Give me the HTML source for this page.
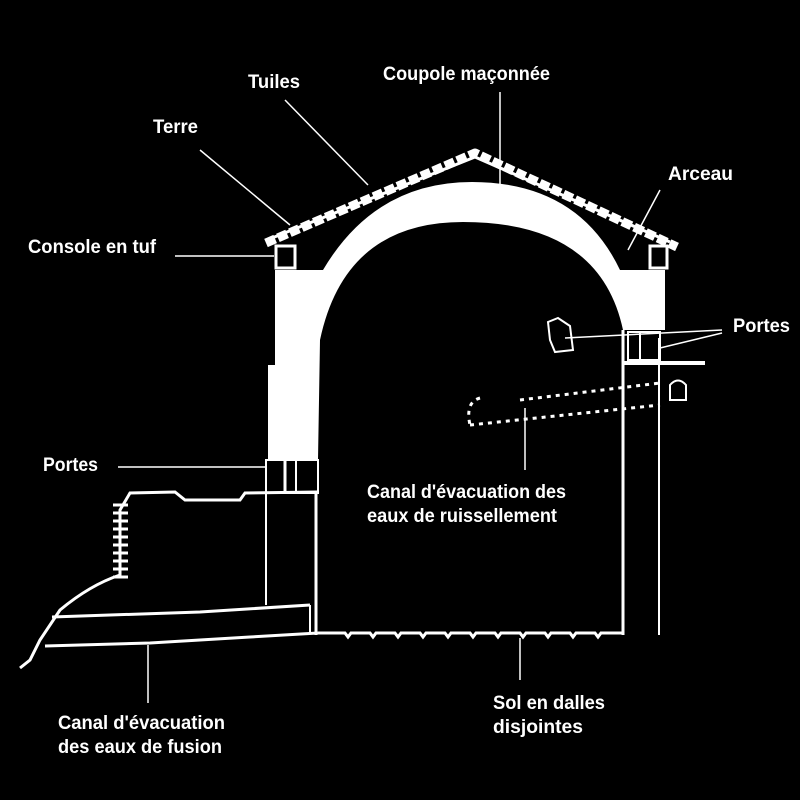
<!DOCTYPE html>
<html><head><style>
html,body{margin:0;padding:0;background:#000;}
svg{display:block;}
text{font-family:"Liberation Sans",sans-serif;font-weight:bold;fill:#fff;font-size:19px;}
</style></head><body>
<svg width="800" height="800" viewBox="0 0 800 800" xmlns="http://www.w3.org/2000/svg">
<rect width="800" height="800" fill="#000"/>
<path d="M275,270 L323,270 Q375,182 472,182 Q578,182 620,270 L665,270 L665,330 L623,330 Q600,222 463,222 Q345,222 320,340 L318,460 L268,460 L268,365 L275,365 Z" fill="#fff"/>
<path d="M266,243 L475,153 L677,247" fill="none" stroke="#fff" stroke-width="9" stroke-dasharray="10 3" stroke-linejoin="round"/>
<path d="M272,238 L475,157 L670,242" fill="none" stroke="#fff" stroke-width="3"/>
<rect x="276" y="246" width="19" height="22" fill="none" stroke="#fff" stroke-width="3"/>
<rect x="650" y="246" width="17" height="22" fill="none" stroke="#fff" stroke-width="3"/>
<g stroke="#fff" fill="none">
<line x1="623" y1="330" x2="623" y2="635" stroke-width="3"/>
<line x1="659" y1="338" x2="659" y2="635" stroke-width="2"/>
<rect x="628" y="332" width="32" height="28" stroke-width="2"/>
<line x1="640" y1="332" x2="640" y2="360" stroke-width="2"/>
<line x1="623" y1="363" x2="705" y2="363" stroke-width="4"/>
<path d="M670,400 L670,385 Q678,376 686,385 L686,400 Z" stroke-width="2"/>
<path d="M548,322 L558,318 L570,326 L573,350 L555,352 L550,340 Z" stroke-width="2"/>
<path d="M318,633 L345,633 l3,4 l3,-4 L370,633 l3,4 l3,-4 L395,633 l3,4 l3,-4 L420,633 l3,4 l3,-4 L445,633 l3,4 l3,-4 L470,633 l3,4 l3,-4 L495,633 l3,4 l3,-4 L520,633 l3,4 l3,-4 L545,633 l3,4 l3,-4 L570,633 l3,4 l3,-4 L595,633 l3,4 l3,-4 L623,633" stroke-width="3"/>
<rect x="266" y="460" width="52" height="33" stroke-width="2"/>
<line x1="285" y1="460" x2="285" y2="493" stroke-width="3"/>
<line x1="296" y1="460" x2="296" y2="493" stroke-width="2"/>
<line x1="266" y1="493" x2="266" y2="605" stroke-width="2"/>
<line x1="316" y1="493" x2="316" y2="635" stroke-width="3"/>
<line x1="310" y1="605" x2="310" y2="633" stroke-width="2"/>
<path d="M120,520 L120,510 L130,493 L175,492 L185,500 L240,500 L245,493 L318,492" stroke-width="3"/>
<path d="M120,520 L120,575 Q90,585 60,610 L40,640 L30,660 L20,668" stroke-width="3"/>
<g stroke-width="3"><line x1="113" y1="505" x2="128" y2="505"/><line x1="113" y1="513" x2="128" y2="513"/><line x1="113" y1="521" x2="128" y2="521"/><line x1="113" y1="529" x2="128" y2="529"/><line x1="113" y1="537" x2="128" y2="537"/><line x1="113" y1="545" x2="128" y2="545"/><line x1="113" y1="553" x2="128" y2="553"/><line x1="113" y1="561" x2="128" y2="561"/><line x1="113" y1="569" x2="128" y2="569"/><line x1="113" y1="577" x2="128" y2="577"/></g>
<path d="M52,617 L200,612 L310,605" stroke-width="3"/>
<path d="M45,646 L150,643 L250,637 L318,633" stroke-width="3"/>
<path d="M520,400 L660,383 M470,425 L660,405 M480,398 Q465,402 470,425" stroke-width="3" stroke-dasharray="4 5"/>
<g stroke-width="1.5">
<line x1="285" y1="100" x2="368" y2="185"/>
<line x1="500" y1="92" x2="500" y2="196"/>
<line x1="200" y1="150" x2="290" y2="225"/>
<line x1="660" y1="190" x2="628" y2="250"/>
<line x1="175" y1="256" x2="274" y2="256"/>
<line x1="565" y1="338" x2="722" y2="330"/>
<line x1="660" y1="348" x2="722" y2="333"/>
<line x1="118" y1="467" x2="266" y2="467"/>
<line x1="525" y1="408" x2="525" y2="470"/>
<line x1="148" y1="645" x2="148" y2="703"/>
<line x1="520" y1="638" x2="520" y2="680"/>
</g>
</g>
<text x="248" y="88" textLength="52" lengthAdjust="spacingAndGlyphs">Tuiles</text>
<text x="383" y="80" textLength="167" lengthAdjust="spacingAndGlyphs">Coupole maçonnée</text>
<text x="153" y="133" textLength="45" lengthAdjust="spacingAndGlyphs">Terre</text>
<text x="668" y="180" textLength="65" lengthAdjust="spacingAndGlyphs">Arceau</text>
<text x="28" y="253" textLength="128" lengthAdjust="spacingAndGlyphs">Console en tuf</text>
<text x="733" y="332" textLength="57" lengthAdjust="spacingAndGlyphs">Portes</text>
<text x="43" y="471" textLength="55" lengthAdjust="spacingAndGlyphs">Portes</text>
<text x="367" y="498" textLength="199" lengthAdjust="spacingAndGlyphs">Canal d'évacuation des</text>
<text x="367" y="522" textLength="190" lengthAdjust="spacingAndGlyphs">eaux de ruissellement</text>
<text x="58" y="729" textLength="167" lengthAdjust="spacingAndGlyphs">Canal d'évacuation</text>
<text x="58" y="753" textLength="164" lengthAdjust="spacingAndGlyphs">des eaux de fusion</text>
<text x="493" y="709" textLength="112" lengthAdjust="spacingAndGlyphs">Sol en dalles</text>
<text x="493" y="733" textLength="90" lengthAdjust="spacingAndGlyphs">disjointes</text>
</svg>
</body></html>
